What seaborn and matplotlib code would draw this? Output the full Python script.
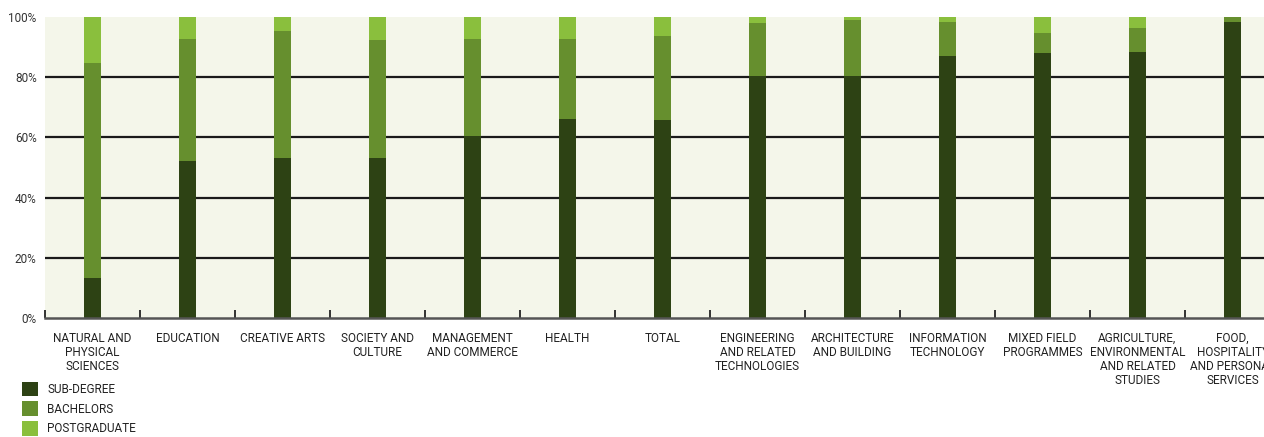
import matplotlib
matplotlib.use("Agg")
import matplotlib.pyplot as plt
from matplotlib.patches import Patch
from matplotlib.ticker import FixedLocator, PercentFormatter
import numpy as np
import pandas as pd
import seaborn as sns

# Share of enrolments by level of study, per field of education (%)
fields = [
    "NATURAL AND\nPHYSICAL\nSCIENCES",
    "EDUCATION",
    "CREATIVE ARTS",
    "SOCIETY AND\nCULTURE",
    "MANAGEMENT\nAND COMMERCE",
    "HEALTH",
    "TOTAL",
    "ENGINEERING\nAND RELATED\nTECHNOLOGIES",
    "ARCHITECTURE\nAND BUILDING",
    "INFORMATION\nTECHNOLOGY",
    "MIXED FIELD\nPROGRAMMES",
    "AGRICULTURE,\nENVIRONMENTAL\nAND RELATED\nSTUDIES",
    "FOOD,\nHOSPITALITY\nAND PERSONAL\nSERVICES",
]
sub_degree = [13.3, 52.2, 53.2, 53.2, 60.5, 66.1, 65.8, 80.4, 80.4, 87.0, 88.0, 88.4, 98.3]
bachelors = [71.4, 40.5, 42.1, 39.2, 32.2, 26.6, 27.9, 17.6, 18.6, 11.3, 6.7, 7.9, 1.7]
postgraduate = [15.3, 7.3, 4.7, 7.6, 7.3, 7.3, 6.3, 2.0, 1.0, 1.7, 5.3, 3.7, 0.0]

levels = ["SUB-DEGREE", "BACHELORS", "POSTGRADUATE"]
colors = ["#2d4214", "#668f2e", "#8abf3d"]

df = pd.DataFrame({
    "field": fields,
    "SUB-DEGREE": sub_degree,
    "BACHELORS": bachelors,
    "POSTGRADUATE": postgraduate,
})
# cumulative tops for stacking
cum = df[levels].cumsum(axis=1)

sns.set_theme(style="white")
plt.rcParams["font.family"] = ["Roboto", "DejaVu Sans"]

fig = plt.figure(figsize=(12.64, 4.37), dpi=100)
ax = fig.add_axes([45 / 1264, 119 / 437, 1235 / 1264, 301 / 437])
ax.set_facecolor("#f4f6ea")

# draw from the top layer down so each lower segment covers the one above
for lvl, col in reversed(list(zip(levels, colors))):
    sns.barplot(x=df["field"], y=cum[lvl], color=col, width=0.17,
                saturation=1, ax=ax, zorder=3, linewidth=0)

ax.set_xlim(-0.5, len(fields) - 0.5)
ax.set_ylim(0, 100)
ax.set_xlabel("")
ax.set_ylabel("")

# gridlines
for v in [20, 40, 60, 80]:
    ax.axhline(v, color="#1a1a1a", lw=1.6, zorder=2)

for s in ["top", "right", "left"]:
    ax.spines[s].set_visible(False)
ax.spines["bottom"].set_color("#555555")
ax.spines["bottom"].set_linewidth(1.8)
ax.spines["bottom"].set_zorder(4)

ax.set_yticks([0, 20, 40, 60, 80, 100])
ax.yaxis.set_major_formatter(PercentFormatter(decimals=0))
ax.tick_params(axis="y", length=0, pad=6, labelsize=8.5, labelcolor="#333333")

ax.set_xticks(range(len(fields)))
ax.set_xticklabels(fields, fontsize=8.5, color="#222222", linespacing=1.1, va="top")
ax.tick_params(axis="x", which="major", length=0, pad=10)
ax.xaxis.set_minor_locator(FixedLocator(np.arange(-0.5, len(fields), 1.0)))
ax.tick_params(axis="x", which="minor", direction="in", length=6, width=1.2,
               color="#111111", bottom=True)

handles = [Patch(facecolor=c, edgecolor="none") for c in colors]
fig.legend(handles, levels, loc="upper left", bbox_to_anchor=(17 / 1264, 1 - 377 / 437),
           frameon=False, fontsize=8.5, handlelength=1.4, handleheight=1.5,
           labelspacing=0.45, handletextpad=0.75, borderaxespad=0, borderpad=0.4,
           labelcolor="#222222")

fig.savefig("out.png", dpi=100, facecolor="white")
